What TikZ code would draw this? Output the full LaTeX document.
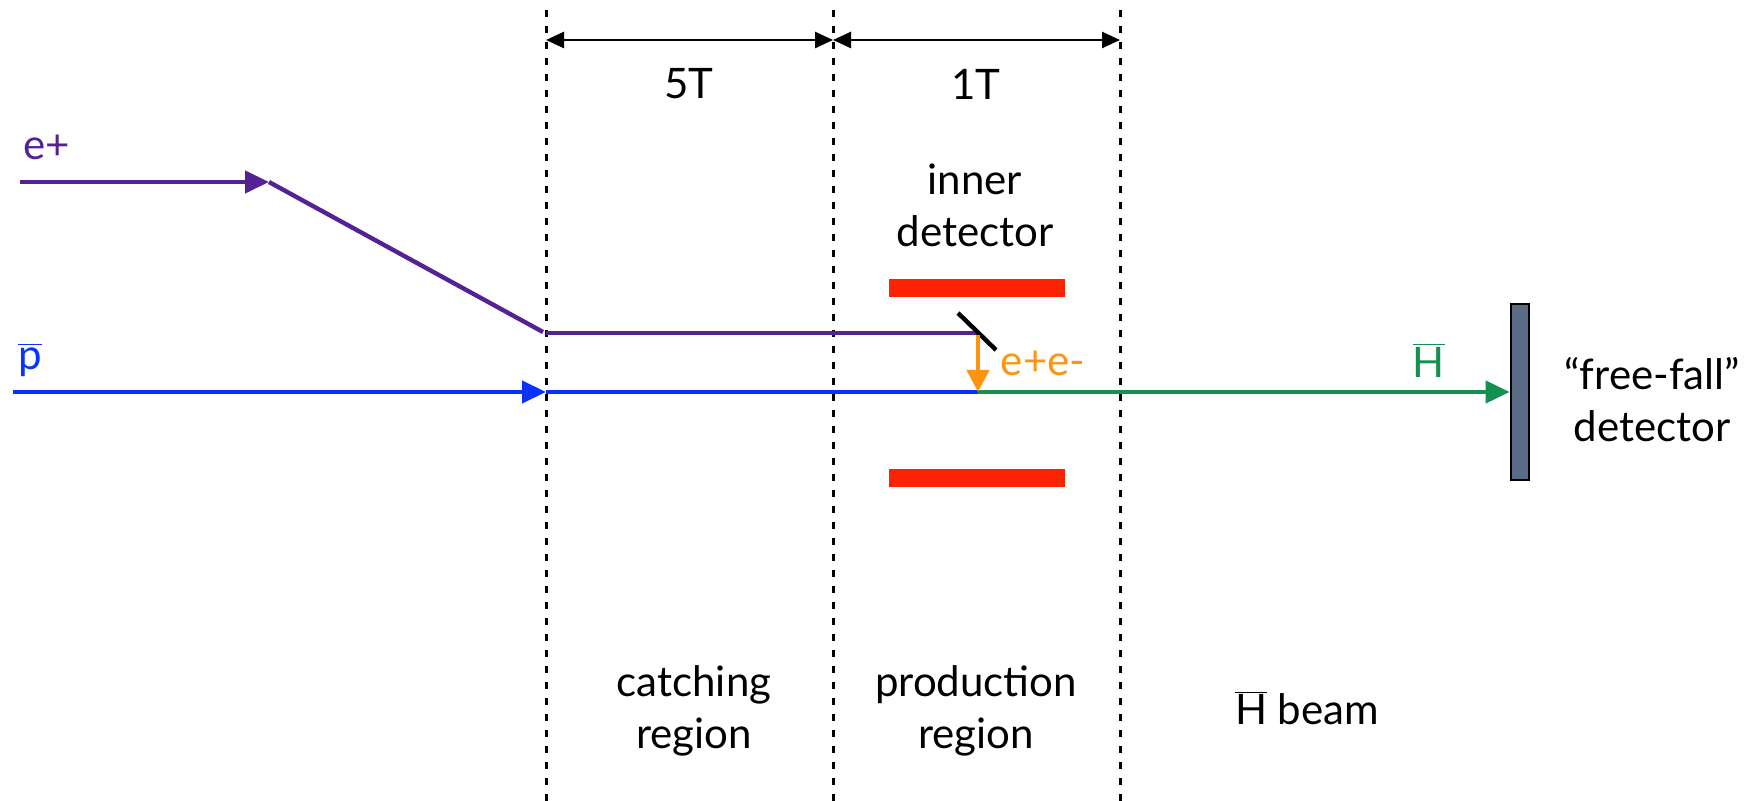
\documentclass[tikz,border=0pt]{standalone}
\usepackage{fontspec}
\setmainfont{Lato}
\usetikzlibrary{arrows.meta}
\definecolor{epur}{RGB}{85,34,150}
\definecolor{pblue}{RGB}{10,50,255}
\definecolor{hgreen}{RGB}{20,145,80}
\definecolor{eorange}{RGB}{255,148,16}
\definecolor{detred}{RGB}{255,34,0}
\definecolor{slate}{RGB}{90,107,133}
\tikzset{
  lbl/.style={font=\fontsize{21}{26}\selectfont, align=center, inner sep=0pt},
  divider/.style={black, line width=1.5pt, dash pattern=on 3.5pt off 4.5pt},
  dimarrow/.style={black, line width=1.3pt, {Triangle[length=9pt,width=8pt]}-{Triangle[length=9pt,width=8pt]}},
  beam/.style={line width=2.2pt},
  tip/.style={-{Triangle[length=12pt,width=11pt]}},
  redbar/.style={fill=detred, draw=none}
}
\begin{document}
\begin{tikzpicture}[x=0.5pt,y=-0.5pt]
\useasboundingbox (0,0) rectangle (1755,801);
% dividers
\coordinate (d1t) at (546,10); \coordinate (d1b) at (546,801);
\coordinate (d2t) at (833,10); \coordinate (d2b) at (833,801);
\coordinate (d3t) at (1120,10); \coordinate (d3b) at (1120,801);
\draw[divider] (d1t) -- (d1b);
\draw[divider] (d2t) -- (d2b);
\draw[divider] (d3t) -- (d3b);
% dimension arrows
\coordinate (a1) at (546,40); \coordinate (a2) at (833,40); \coordinate (a3) at (1120,40);
\draw[dimarrow] (a1) -- (a2);
\draw[dimarrow] (a2) -- (a3);
\node[lbl] (f5) at (689,84) {5T};
\node[lbl] (f1) at (976,84) {1T};
% red bars
\node[redbar, minimum width=88pt, minimum height=9pt, inner sep=0pt] (rb1) at (977,288) {};
\node[redbar, minimum width=88pt, minimum height=9pt, inner sep=0pt] (rb2) at (977,478) {};
\node[lbl] (inner) at (975,205) {inner\\detector};
% positron path
\coordinate (e0) at (20,182);
\coordinate (e1) at (269,182);
\coordinate (e2) at (543,332);
\coordinate (e2b) at (546,333);
\coordinate (e3) at (978,333);
\draw[beam, epur, tip] (e0) -- (e1);
\draw[beam, epur] (e1) -- (e2);
\draw[beam, epur] (e2b) -- (e3);
\node[lbl, text=epur] (elbl) at (47,147) {e+};
% black slash
\coordinate (s0) at (958,313); \coordinate (s1) at (996,350);
\draw[black, line width=2.2pt] (s0) -- (s1);
% antiproton
\coordinate (p0) at (13,392);
\coordinate (p1) at (546,392);
\coordinate (pm) at (978,392);
\draw[beam, pblue, tip] (p0) -- (p1);
\draw[beam, pblue] (p1) -- (pm);
\node[lbl, text=pblue] (plbl) at (30,360) {$\overline{\hbox{p}}$};
% detector
\node[draw=black, line width=1.4pt, fill=slate, minimum width=9pt, minimum height=88pt, inner sep=0pt] (det) at (1520,392) {};
% Hbar
\draw[beam, hgreen, tip] (pm) -- (det.west);
\node[lbl, text=hgreen] (hlbl) at (1429,360) {$\overline{\hbox{H}}$};
% orange arrow
\coordinate (o0) at (978,335);
\draw[line width=2.2pt, eorange, -{Triangle[length=11pt,width=11pt]}] (o0) -- (pm);
\node[lbl, text=eorange] (eelbl) at (1043,363) {e+e-};
% free-fall label
\node[lbl] (fflbl) at (1652,400) {“free-fall”\\detector};
% region labels
\node[lbl] (catch) at (694,711) {catching\\region};
\node[lbl] (prod) at (976,711) {production\\region};
\node[lbl] (hbeam) at (1307,708) {$\overline{\hbox{H}}$ beam};
\end{tikzpicture}
\end{document}
